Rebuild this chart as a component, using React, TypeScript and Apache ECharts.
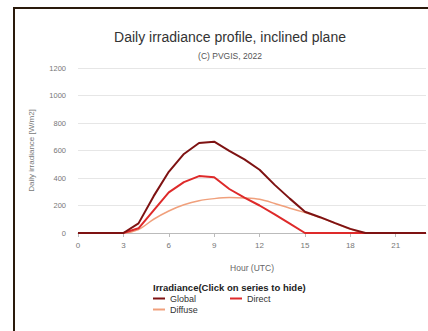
import React, { useEffect, useRef } from "react";
import * as echarts from "echarts";

const hours = [0,1,2,3,4,5,6,7,8,9,10,11,12,13,14,15,16,17,18,19,20,21,22,23];
const globalVals = [0,0,0,0,70,268,445,575,655,664,598,535,460,350,250,155,115,72,30,0,0,0,0,0];
const directVals = [0,0,0,0,34,165,295,370,414,405,320,258,200,135,68,0,0,0,0,0,0,0,0,0];
const diffuseVals = [0,0,0,0,25,100,160,205,235,250,258,255,245,215,180,148,112,70,28,0,0,0,0,0];

const FONT = "Liberation Sans, Arial, sans-serif";

export default function App() {
  const ref = useRef<HTMLDivElement>(null);
  useEffect(() => {
    if (!ref.current) return;
    const chart = echarts.init(ref.current, null, { renderer: "svg" });
    const pair = (vals: number[]) => hours.map((h, i) => [h, vals[i]]);
    chart.setOption({
      animation: false,
      backgroundColor: "#ffffff",
      textStyle: { fontFamily: FONT },
      title: {
        text: "Daily irradiance profile, inclined plane",
        subtext: "(C) PVGIS, 2022",
        left: 225,
        textAlign: "center",
        top: 25,
        itemGap: 7,
        textStyle: { fontSize: 14, fontWeight: "normal", color: "#333", fontFamily: FONT },
        subtextStyle: { fontSize: 8.5, color: "#555", fontFamily: FONT },
      },
      grid: { left: 78, right: 2, top: 68, bottom: 98 },
      xAxis: {
        type: "value",
        min: 0,
        max: 23,
        interval: 3,
        name: "Hour (UTC)",
        nameLocation: "middle",
        nameGap: 30,
        nameTextStyle: { fontSize: 8.5, color: "#666", fontFamily: FONT },
        axisLine: { show: true, lineStyle: { color: "#bbb" } },
        axisTick: { show: true, length: 4, lineStyle: { color: "#bbb" } },
        axisLabel: { fontSize: 8, color: "#777", margin: 8, fontFamily: FONT, showMaxLabel: false },
        splitLine: { show: false },
      },
      yAxis: {
        type: "value",
        min: 0,
        max: 1200,
        interval: 200,
        name: "Daily irradiance [W/m2]",
        nameLocation: "middle",
        nameGap: 43,
        nameTextStyle: { fontSize: 8, color: "#777", fontFamily: FONT },
        axisLine: { show: false },
        axisTick: { show: false },
        axisLabel: {
          fontSize: 7.5,
          color: "#777",
          margin: 12,
          fontFamily: FONT,
          formatter: (v: number) => String(v),
        },
        splitLine: { show: true, lineStyle: { color: "#e6e6e6" } },
      },
      legend: [
        {
          data: ["Global", "Direct"],
          left: 153,
          top: 294,
          orient: "horizontal",
          icon: "rect",
          itemWidth: 12,
          itemHeight: 2,
          itemGap: 34,
          textStyle: { fontSize: 9, color: "#333", fontFamily: FONT },
          padding: 0,
        },
        {
          data: ["Diffuse"],
          left: 153,
          top: 305,
          orient: "horizontal",
          icon: "rect",
          itemWidth: 12,
          itemHeight: 2,
          textStyle: { fontSize: 9, color: "#333", fontFamily: FONT },
          padding: 0,
        },
      ],
      graphic: [
        {
          type: "text",
          left: 153,
          top: 282,
          style: {
            text: "Irradiance(Click on series to hide)",
            fontSize: 9.5,
            fontWeight: "bold",
            fill: "#222",
            fontFamily: FONT,
          },
        },
      ],
      series: [
        {
          name: "Global",
          type: "line",
          data: pair(globalVals),
          showSymbol: false,
          symbol: "none",
          lineStyle: { width: 2, color: "#7e1212" },
          itemStyle: { color: "#7e1212" },
          z: 3,
        },
        {
          name: "Direct",
          type: "line",
          data: pair(directVals),
          showSymbol: false,
          symbol: "none",
          lineStyle: { width: 2, color: "#de2a2a" },
          itemStyle: { color: "#de2a2a" },
          z: 2,
        },
        {
          name: "Diffuse",
          type: "line",
          data: pair(diffuseVals),
          showSymbol: false,
          symbol: "none",
          smooth: 0.3,
          lineStyle: { width: 1.5, color: "#f0a07c" },
          itemStyle: { color: "#f0a07c" },
          z: 1,
        },
      ],
    });
    return () => chart.dispose();
  }, []);
  return (
    <div style={{ position: "fixed", left: 0, top: 0, width: 428, height: 331, background: "#fff" }}>
      <div ref={ref} style={{ position: "absolute", left: 0, top: 0, width: 428, height: 331 }} />
      <div
        style={{
          position: "absolute",
          left: 13,
          top: 7,
          width: 415,
          height: 324,
          borderTop: "2px solid #2a1a0c",
          borderLeft: "2px solid #2a1a0c",
          boxSizing: "border-box",
          pointerEvents: "none",
        }}
      />
    </div>
  );
}
